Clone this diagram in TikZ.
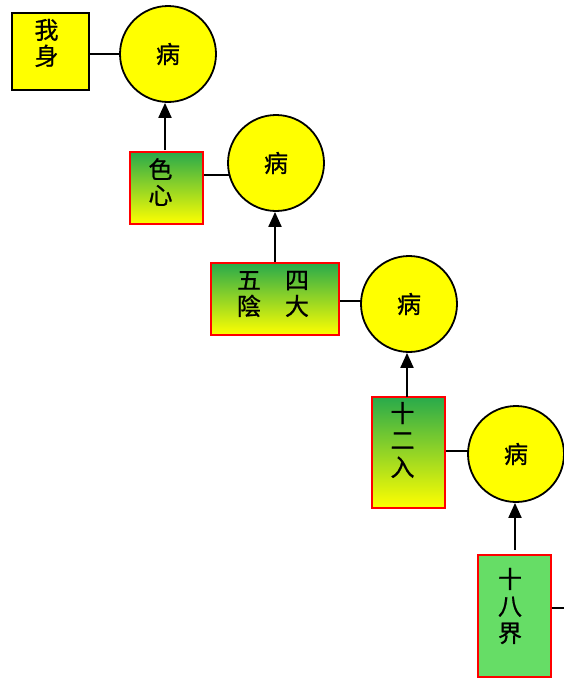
\documentclass[tikz,border=0pt]{standalone}
\usepackage{fontspec}
\newfontfamily\cjk[FakeBold=0.8]{Noto Sans CJK SC}
\usetikzlibrary{arrows.meta,backgrounds}
\definecolor{gtop}{RGB}{40,170,75}
\definecolor{ylw}{RGB}{255,255,0}
\definecolor{lgreen}{RGB}{102,221,102}
\begin{document}
\begin{tikzpicture}[x=1pt,y=-1pt,
  ybox/.style={draw=black, line width=1.8pt, fill=ylw, inner sep=0, minimum width=#1},
  gbox/.style={draw=red, line width=2pt, top color=gtop, bottom color=ylw, inner sep=0},
  fbox/.style={draw=red, line width=2pt, fill=lgreen, inner sep=0},
  ill/.style={circle, draw=black, line width=1.8pt, fill=ylw, minimum size=96pt, inner sep=0, font=\cjk\fontsize{24}{27}\selectfont},
  lbl/.style={font=\cjk\fontsize{24}{26}\selectfont, align=center, inner sep=0},
  conn/.style={line width=2pt},
  arr/.style={line width=2pt, -{Triangle[width=13pt,length=15pt]}}]
\useasboundingbox (0,0) rectangle (564,680);
% boxes
\node[ybox=77pt, minimum height=77pt] (b1) at (50.5,51.5) {};
\node[gbox, minimum width=73pt, minimum height=72pt] (b2) at (166.5,188) {};
\node[gbox, minimum width=128pt, minimum height=72pt] (b3) at (275,299) {};
\node[gbox, minimum width=73pt, minimum height=111pt] (b4) at (408.5,452.5) {};
\node[fbox, minimum width=73pt, minimum height=122pt] (b5) at (514.5,616) {};
% labels
\node[lbl] (t1) at (46.5,43) {我\\身};
\node[lbl] (t2) at (160.5,182) {色\\心};
\node[lbl] (t3) at (273,294) {五　四\\陰　大};
\node[lbl, font=\cjk\fontsize{24}{27}\selectfont] (t4) at (402.5,440) {十\\二\\入};
\node[lbl, font=\cjk\fontsize{24}{27}\selectfont] (t5) at (510,606) {十\\八\\界};
% circles
\node[ill] (c1) at (168,54) {病};
\node[ill] (c2) at (276,163) {病};
\node[ill] (c3) at (409,304) {病};
\node[ill] (c4) at (516,454) {病};
\coordinate (e5) at (575,608);
% connectors
\begin{scope}[on background layer]
\draw[conn] (b1.east |- c1) -- (c1);
\draw[conn] (b2.east |- 0,175) -- (c2.center |- 0,175);
\draw[conn] (b3.east |- 0,301) -- (c3.center |- 0,301);
\draw[conn] (b4.east |- 0,451) -- (c4.center |- 0,451);
\end{scope}
\draw[conn] (b5.east |- e5) -- (e5);
\draw[arr] (165,150) coordinate (a1) -- (a1 |- c1.south);
\draw[arr] (b3.north) -- (b3.north |- c2.south);
\draw[arr] (407,397) coordinate (a3) -- (a3 |- c3.south);
\draw[arr] (515,550) coordinate (a4) -- (a4 |- c4.south);
\end{tikzpicture}
\end{document}
